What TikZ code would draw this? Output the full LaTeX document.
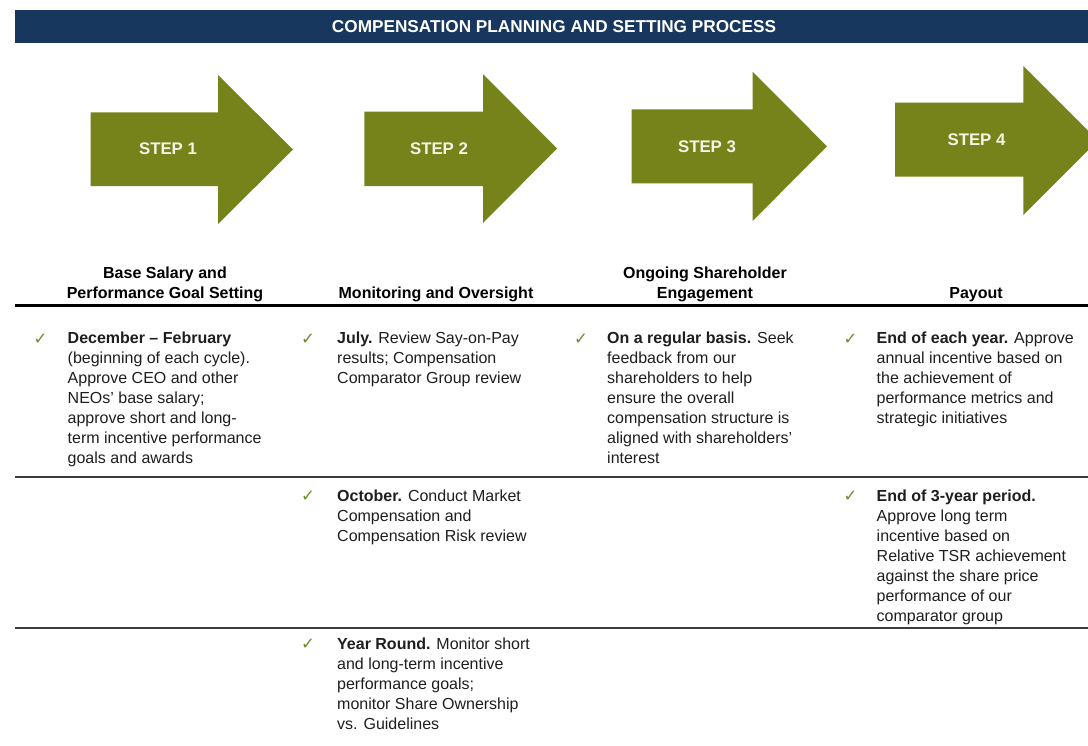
\documentclass[tikz,border=0pt]{standalone}
\usepackage{fontspec}
\setmainfont{Liberation Sans}
\newfontfamily\symfont{DejaVu Sans}
\definecolor{barnavy}{RGB}{23,55,94}
\definecolor{arrowolive}{RGB}{117,131,26}
\definecolor{stepcream}{RGB}{244,244,230}
\definecolor{tickgreen}{RGB}{108,140,45}
\definecolor{bodytext}{RGB}{30,30,30}
\definecolor{rulegray}{RGB}{60,60,60}
\begin{document}
\begin{tikzpicture}[x=1pt,y=-1pt,
  stepshape/.style={fill=arrowolive},
  steplabel/.style={text=stepcream,font=\fontsize{16.8}{19}\selectfont\bfseries,inner sep=0},
  heading/.style={font=\fontsize{16}{20}\selectfont\bfseries,align=center,inner sep=0,anchor=north,text=black},
  bodytxt/.style={font=\fontsize{16}{20}\selectfont,align=left,inner sep=0,anchor=north west,text=bodytext},
  tick/.style={font=\symfont\fontsize{16.5}{16.5}\selectfont,text=tickgreen,inner sep=0,anchor=base},
  thickrule/.style={line width=3pt,black},
  thinrule/.style={line width=1.6pt,rulegray}]
\useasboundingbox (0,0) rectangle (1088,745);
\begin{scope}
\clip (0,0) rectangle (1088,745);
% title bar
\fill[barnavy] (15.3,10) rectangle (1088,43.3);
\node[anchor=base,text=white,font=\fontsize{17.2}{20}\selectfont\bfseries,inner sep=0] (title) at (554,32.8) {COMPENSATION PLANNING AND SETTING PROCESS};
% arrows
\fill[stepshape] (90.7,112.3) -- (218,112.3) -- (218,75) -- (293,149.5) -- (218,224) -- (218,186) -- (90.7,186) -- cycle;
\fill[stepshape] (364.3,111.7) -- (483,111.7) -- (483,74) -- (557,148.5) -- (483,223) -- (483,186) -- (364.3,186) -- cycle;
\fill[stepshape] (631.7,109.3) -- (752.6,109.3) -- (752.6,71.7) -- (827,146.3) -- (752.6,221) -- (752.6,183.3) -- (631.7,183.3) -- cycle;
\fill[stepshape] (895,102.7) -- (1023.3,102.7) -- (1023.3,66) -- (1097.8,140.5) -- (1023.3,215) -- (1023.3,176.7) -- (895,176.7) -- cycle;
\end{scope}
\node[steplabel] (s1) at (168,149) {STEP 1};
\node[steplabel] (s2) at (439,148.5) {STEP 2};
\node[steplabel] (s3) at (707,146.3) {STEP 3};
\node[steplabel] (s4) at (976.5,139.7) {STEP 4};
% headings
\node[heading] (h1) at (165,264) {\strut Base Salary and\\Performance Goal Setting};
\node[heading] (h2) at (436,284) {\strut Monitoring and Oversight};
\node[heading] (h3) at (705,264) {\strut Ongoing Shareholder\\Engagement};
\node[heading] (h4) at (976,284) {\strut Payout};
% rules
\draw[thickrule] (15,305.5) -- (1088,305.5);
\draw[thinrule] (15,477) -- (1088,477);
\draw[thinrule] (15,628) -- (1088,628);
% row 1
\node[tick] (t11) at (40.5,344) {✓};
\node[bodytxt] (b11) at (67.5,329.5) {\strut\textbf{December -- February}\\(beginning of each cycle).\\Approve CEO and other\\NEOs' base salary;\\approve short and long-\\term incentive performance\\goals and awards};
\node[tick] (t12) at (308,344) {✓};
\node[bodytxt] (b12) at (337,329.5) {\strut\textbf{July.} Review Say-on-Pay\\results; Compensation\\Comparator Group review};
\node[tick] (t13) at (581,344) {✓};
\node[bodytxt] (b13) at (607,329.5) {\strut\textbf{On a regular basis.} Seek\\feedback from our\\shareholders to help\\ensure the overall\\compensation structure is\\aligned with shareholders'\\interest};
\node[tick] (t14) at (850.5,344) {✓};
\node[bodytxt] (b14) at (876.5,329.5) {\strut\textbf{End of each year.} Approve\\annual incentive based on\\the achievement of\\performance metrics and\\strategic initiatives};
% row 2
\node[tick] (t22) at (308,501.5) {✓};
\node[bodytxt] (b22) at (337,487) {\strut\textbf{October.} Conduct Market\\Compensation and\\Compensation Risk review};
\node[tick] (t24) at (850.5,501.5) {✓};
\node[bodytxt] (b24) at (876.5,487) {\strut\textbf{End of 3-year period.}\\Approve long term\\incentive based on\\Relative TSR achievement\\against the share price\\performance of our\\comparator group};
% row 3
\node[tick] (t32) at (308,649.5) {✓};
\node[bodytxt] (b32) at (337,635) {\strut\textbf{Year Round.} Monitor short\\and long-term incentive\\performance goals;\\monitor Share Ownership\\vs. Guidelines};
\end{tikzpicture}
\end{document}
